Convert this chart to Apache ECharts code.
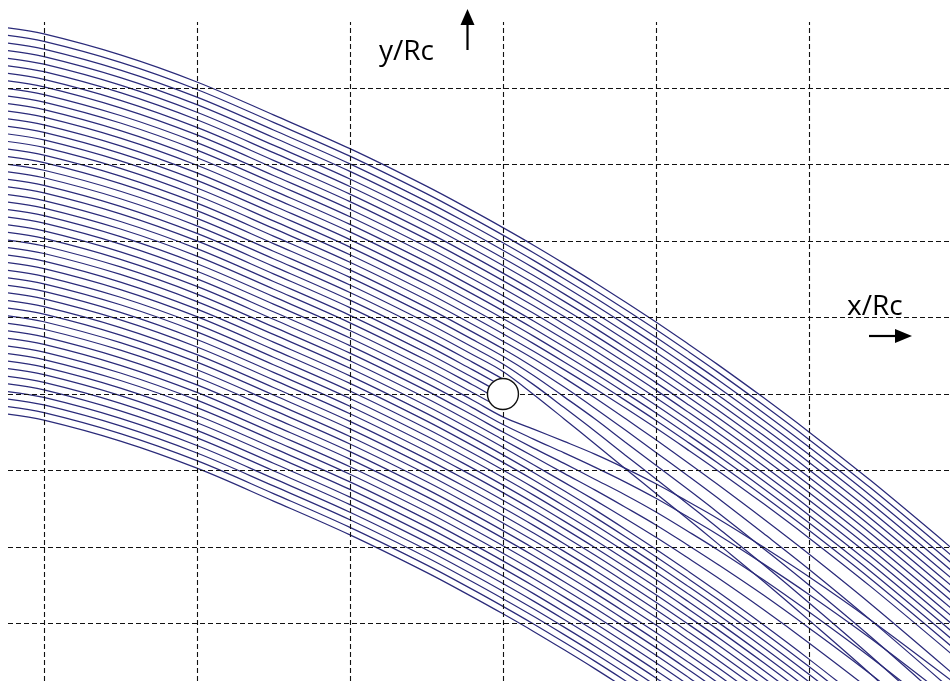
<!DOCTYPE html>
<html>
<head>
<meta charset="utf-8">
<script src="https://cdn.jsdelivr.net/npm/echarts@6/dist/echarts.min.js"></script>
<style>
html,body{margin:0;padding:0;background:#fff;}
#chart{width:950px;height:681px;}
</style>
</head>
<body>
<div id="chart"></div>
<script>
// Sample positions along x/Rc (shared by every trajectory)
const sampleX = [-32.35, -30, -25, -20, -15, -10, -5, -2, 0, 2, 4, 6, 8, 10, 12, 14, 17, 20, 24, 29.3];
// Uppermost trajectory y/Rc at each sample x
const baseY = [23.92, 23.53, 22.16, 20.39, 18.24, 16.03, 13.58, 11.98, 10.87, 9.72, 8.52, 7.29, 6.01, 4.70, 3.34, 1.95, -0.22, -2.48, -5.63, -10.05];
// Starting heights y/Rc of the 52 trajectories at the left edge
const startY = [23.92, 23.43, 22.93, 22.44, 21.94, 21.45, 20.95, 20.46, 19.96, 19.47,
  18.97, 18.48, 17.98, 17.49, 16.99, 16.50, 16.00, 15.51, 15.01, 14.52,
  14.02, 13.53, 13.03, 12.54, 12.04, 11.55, 11.05, 10.56, 10.06, 9.57,
  9.07, 8.58, 8.08, 7.59, 7.09, 6.60, 6.10, 5.61, 5.11, 4.62,
  4.12, 3.63, 3.13, 2.64, 2.14, 1.65, 1.15, 0.66, 0.16, -0.33,
  -0.83, -1.32];
// Trajectories captured by the collector and where they end on it
const capturedLines = [20, 21, 22, 23, 24];
const captureEndX = [-0.05, -0.59, -0.88, -1.00, -0.85];
const captureEndY = [1.00, 0.81, 0.48, 0.05, -0.53];
// Deflection behind the collector (from x = 0 onward), toward the wake axis
const deflectedAbove = [19, 18, 17, 16, 15];
const deflectedBelow = [25, 26, 27, 28, 29];
const defl1 = [0, 0.35, 0.75, 1.15, 1.50, 1.80, 2.05, 2.30, 2.60, 2.90, 3.25, 3.70];
const defl2 = [0, 0.20, 0.50, 0.80, 1.10, 1.35, 1.55, 1.75, 2.00, 2.25, 2.55, 2.90];
const defl3 = [0, 0.10, 0.30, 0.50, 0.75, 0.95, 1.10, 1.25, 1.45, 1.60, 1.80, 2.05];
const defl4 = [0, 0.05, 0.15, 0.30, 0.45, 0.60, 0.70, 0.80, 0.95, 1.05, 1.20, 1.35];
const defl5 = [0, 0.00, 0.05, 0.12, 0.20, 0.28, 0.35, 0.42, 0.50, 0.56, 0.64, 0.72];
const deflProfiles = [defl1, defl2, defl3, defl4, defl5];
// Collector position
const collector = [[0, 0]];
// Grid positions
const gridX = [-30, -20, -10, 0, 10, 20];
const gridY = [-15, -10, -5, 0, 5, 10, 15, 20];

const firstDefl = sampleX.indexOf(0);
const series = [];
startY.forEach(function (s0, i) {
  const off = s0 - startY[0];
  let prof = null, sign = 0;
  const a = deflectedAbove.indexOf(i), b = deflectedBelow.indexOf(i);
  if (a >= 0) { prof = deflProfiles[a]; sign = -1; }
  if (b >= 0) { prof = deflProfiles[b]; sign = 1; }
  const c = capturedLines.indexOf(i);
  const pts = [];
  for (let j = 0; j < sampleX.length; j++) {
    if (c >= 0 && sampleX[j] >= captureEndX[c]) break;
    let y = baseY[j] + off;
    if (prof && j >= firstDefl) y += sign * prof[j - firstDefl];
    pts.push([sampleX[j], y]);
  }
  if (c >= 0) pts.push([captureEndX[c], captureEndY[c]]);
  series.push({
    type: 'line', data: pts, smooth: 0.35, symbol: 'none', silent: true,
    lineStyle: { color: '#2b2b7a', width: 1.25 }, z: 2
  });
});
series.push({
  type: 'line', data: [], silent: true, z: 3,
  markLine: {
    silent: true, symbol: ['none', 'none'], label: { show: false },
    lineStyle: { color: '#111111', width: 1.1, type: [5, 3] },
    data: gridX.map(function (v) { return { xAxis: v }; })
      .concat(gridY.map(function (v) { return { yAxis: v }; }))
  }
});
series.push({
  type: 'scatter', data: collector, symbol: 'circle', symbolSize: 31, silent: true, z: 10,
  itemStyle: { color: '#ffffff', borderColor: '#111', borderWidth: 1.4, opacity: 1 }
});

const chart = echarts.init(document.getElementById('chart'), null, { renderer: 'canvas' });
chart.setOption({
  animation: false,
  backgroundColor: '#ffffff',
  grid: { left: 8, right: 0, top: 22, bottom: 0, containLabel: false },
  xAxis: { type: 'value', min: -32.35, max: 29.22, show: false, splitLine: { show: false } },
  yAxis: { type: 'value', min: -18.76, max: 24.31, show: false, splitLine: { show: false } },
  series: series,
  graphic: [
    { type: 'text', x: 379, y: 38, z: 10, style: { text: 'y/Rc', font: '28px "Open Sans", Lato, sans-serif', fill: '#000', textVerticalAlign: 'alphabetic' } },
    { type: 'line', z: 10, shape: { x1: 467.5, y1: 50, x2: 467.5, y2: 22 }, style: { stroke: '#000', lineWidth: 2.2 } },
    { type: 'polygon', z: 10, shape: { points: [[467.5, 9], [460.5, 25], [474.5, 25]] }, style: { fill: '#000' } },
    { type: 'text', x: 847, y: 293, z: 10, style: { text: 'x/Rc', font: '28px "Open Sans", Lato, sans-serif', fill: '#000', textVerticalAlign: 'alphabetic' } },
    { type: 'line', z: 10, shape: { x1: 869, y1: 336, x2: 898, y2: 336 }, style: { stroke: '#000', lineWidth: 2.2 } },
    { type: 'polygon', z: 10, shape: { points: [[912, 336], [895, 329], [895, 343]] }, style: { fill: '#000' } }
  ]
});
</script>
</body>
</html>
